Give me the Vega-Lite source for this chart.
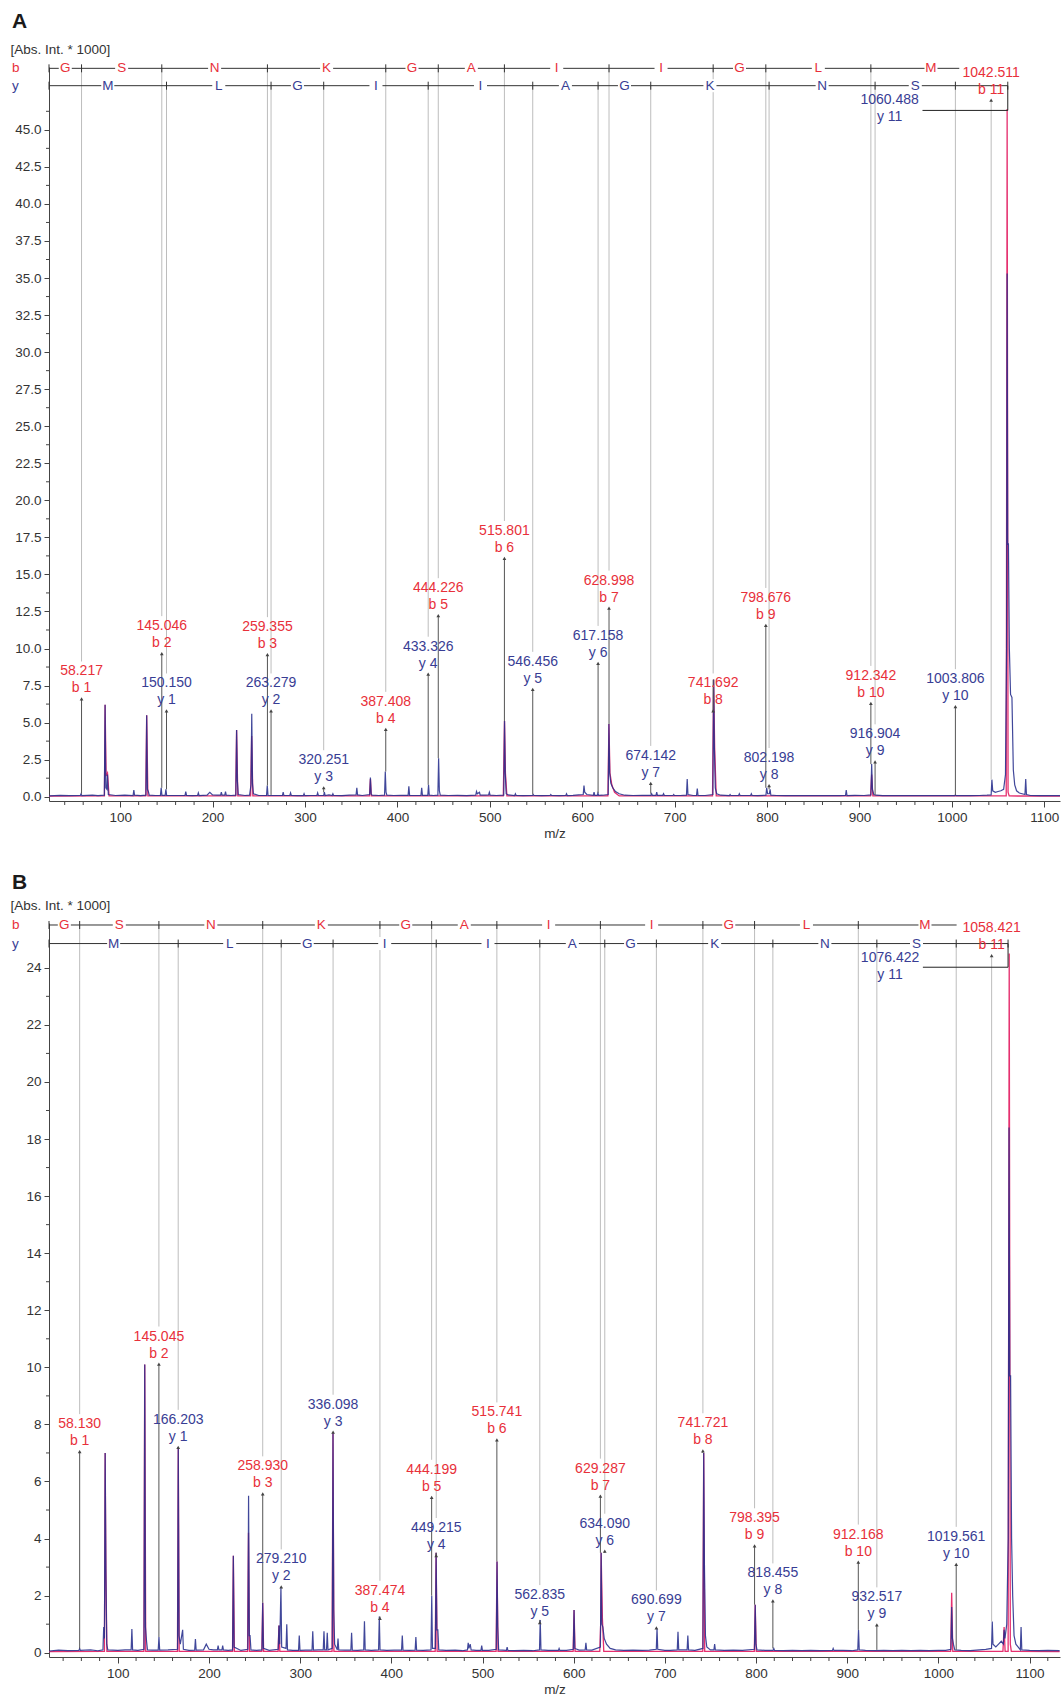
{
"$schema":"https://vega.github.io/schema/vega-lite/v6.json",
"background":"white",
"padding":{"left":10,"top":10,"right":1,"bottom":5},
"bounds":"flush",
"spacing":122,
"config":{"font":"Liberation Sans","view":{"stroke":null},
"axis":{"labelFont":"Liberation Sans","labelFontSize":13.5,"labelColor":"#333","titleFont":"Liberation Sans","titleFontSize":13.5,"titleFontWeight":"normal","titleColor":"#333","domainColor":"#444","tickColor":"#444","grid":false},
"text":{"font":"Liberation Sans"}},
"datasets":{
"minorXA":[{"v":40},{"v":60},{"v":80},{"v":120},{"v":140},{"v":160},{"v":180},{"v":220},{"v":240},{"v":260},{"v":280},{"v":320},{"v":340},{"v":360},{"v":380},{"v":420},{"v":440},{"v":460},{"v":480},{"v":520},{"v":540},{"v":560},{"v":580},{"v":620},{"v":640},{"v":660},{"v":680},{"v":720},{"v":740},{"v":760},{"v":780},{"v":820},{"v":840},{"v":860},{"v":880},{"v":920},{"v":940},{"v":960},{"v":980},{"v":1020},{"v":1040},{"v":1060},{"v":1080}],
"minorXB":[{"v":40},{"v":60},{"v":80},{"v":120},{"v":140},{"v":160},{"v":180},{"v":220},{"v":240},{"v":260},{"v":280},{"v":320},{"v":340},{"v":360},{"v":380},{"v":420},{"v":440},{"v":460},{"v":480},{"v":520},{"v":540},{"v":560},{"v":580},{"v":620},{"v":640},{"v":660},{"v":680},{"v":720},{"v":740},{"v":760},{"v":780},{"v":820},{"v":840},{"v":860},{"v":880},{"v":920},{"v":940},{"v":960},{"v":980},{"v":1020},{"v":1040},{"v":1060},{"v":1080},{"v":1120}],
"minorYA":[{"v":1.25},{"v":3.75},{"v":6.25},{"v":8.75},{"v":11.25},{"v":13.75},{"v":16.25},{"v":18.75},{"v":21.25},{"v":23.75},{"v":26.25},{"v":28.75},{"v":31.25},{"v":33.75},{"v":36.25},{"v":38.75},{"v":41.25},{"v":43.75},{"v":46.25}],
"minorYB":[{"v":1},{"v":3},{"v":5},{"v":7},{"v":9},{"v":11},{"v":13},{"v":15},{"v":17},{"v":19},{"v":21},{"v":23}],
"specAr":[{"mz":23,"I":0.04},{"mz":83,"I":0.05},{"mz":83.7,"I":6.2},{"mz":84.8,"I":1.4},{"mz":86.3,"I":1.6},{"mz":88,"I":0.05},{"mz":127.7,"I":0.05},{"mz":128.7,"I":5.5},{"mz":130,"I":0.05},{"mz":225,"I":0.05},{"mz":226,"I":4.5},{"mz":227.3,"I":0.05},{"mz":241.2,"I":0.05},{"mz":242.3,"I":4.1},{"mz":243.6,"I":0.05},{"mz":369.8,"I":0.05},{"mz":370.8,"I":1.2},{"mz":371.8,"I":0.05},{"mz":514.6,"I":0.05},{"mz":515.9,"I":5.1},{"mz":516.9,"I":1.6},{"mz":518.5,"I":0.05},{"mz":627.8,"I":0.05},{"mz":628.9,"I":4.9},{"mz":630,"I":1.6},{"mz":632,"I":0.8},{"mz":635,"I":0.3},{"mz":640,"I":0.05},{"mz":741,"I":0.05},{"mz":742.2,"I":7.9},{"mz":743.3,"I":3.3},{"mz":745,"I":0.05},{"mz":912,"I":0.05},{"mz":913.2,"I":1.5},{"mz":914.5,"I":0.05},{"mz":1058.8,"I":0.05},{"mz":1059.8,"I":46.4},{"mz":1060.8,"I":0.3},{"mz":1062,"I":0.05},{"mz":1117,"I":0.04}],
"specAb":[{"mz":23,"I":0.06},{"mz":35,"I":0.09},{"mz":45,"I":0.07},{"mz":56.9,"I":0.08},{"mz":57.7,"I":0.2},{"mz":58.5,"I":0.08},{"mz":70,"I":0.1},{"mz":76,"I":0.07},{"mz":82.9,"I":0.1},{"mz":83.7,"I":6.2},{"mz":84.5,"I":0.6},{"mz":85.6,"I":0.5},{"mz":86.3,"I":1.5},{"mz":87.2,"I":0.15},{"mz":95,"I":0.08},{"mz":105,"I":0.1},{"mz":114,"I":0.08},{"mz":114.8,"I":0.45},{"mz":115.6,"I":0.1},{"mz":122,"I":0.07},{"mz":127.9,"I":0.1},{"mz":128.7,"I":5.5},{"mz":129.5,"I":0.5},{"mz":130.5,"I":0.35},{"mz":131.5,"I":0.1},{"mz":138,"I":0.08},{"mz":143.6,"I":0.09},{"mz":144.4,"I":0.6},{"mz":145.2,"I":0.09},{"mz":148.7,"I":0.09},{"mz":149.5,"I":0.5},{"mz":150.3,"I":0.09},{"mz":160,"I":0.08},{"mz":170.2,"I":0.09},{"mz":171,"I":0.35},{"mz":171.8,"I":0.09},{"mz":178,"I":0.07},{"mz":183.8,"I":0.08},{"mz":184.6,"I":0.25},{"mz":185.4,"I":0.08},{"mz":194,"I":0.1},{"mz":197,"I":0.3},{"mz":200,"I":0.12},{"mz":205,"I":0.1},{"mz":208.7,"I":0.1},{"mz":209.5,"I":0.3},{"mz":210.3,"I":0.1},{"mz":213.2,"I":0.1},{"mz":214,"I":0.35},{"mz":214.8,"I":0.1},{"mz":220,"I":0.08},{"mz":225.2,"I":0.1},{"mz":226,"I":4.5},{"mz":226.8,"I":1.1},{"mz":227.8,"I":0.15},{"mz":235,"I":0.08},{"mz":240,"I":0.1},{"mz":241.6,"I":0.8},{"mz":242.4,"I":5.6},{"mz":243.2,"I":0.9},{"mz":244.2,"I":0.2},{"mz":250,"I":0.08},{"mz":258.4,"I":0.09},{"mz":259.2,"I":0.75},{"mz":260,"I":0.09},{"mz":268,"I":0.08},{"mz":275.6,"I":0.08},{"mz":276.4,"I":0.3},{"mz":277.2,"I":0.08},{"mz":283.6,"I":0.08},{"mz":284.4,"I":0.25},{"mz":285.2,"I":0.08},{"mz":292,"I":0.07},{"mz":298.2,"I":0.07},{"mz":299,"I":0.2},{"mz":299.8,"I":0.07},{"mz":306,"I":0.08},{"mz":312.9,"I":0.08},{"mz":313.7,"I":0.25},{"mz":314.5,"I":0.08},{"mz":320.2,"I":0.08},{"mz":321,"I":0.3},{"mz":321.8,"I":0.08},{"mz":326,"I":0.12},{"mz":329.4,"I":0.08},{"mz":330.2,"I":0.2},{"mz":331,"I":0.08},{"mz":340,"I":0.07},{"mz":348,"I":0.1},{"mz":355.3,"I":0.12},{"mz":356.1,"I":0.6},{"mz":356.9,"I":0.12},{"mz":362,"I":0.08},{"mz":370,"I":0.15},{"mz":370.8,"I":1.3},{"mz":371.6,"I":0.2},{"mz":372.6,"I":0.1},{"mz":380,"I":0.08},{"mz":386.1,"I":0.1},{"mz":386.9,"I":1.7},{"mz":387.7,"I":0.3},{"mz":388.6,"I":0.1},{"mz":396,"I":0.08},{"mz":404,"I":0.09},{"mz":411.6,"I":0.09},{"mz":412.4,"I":0.7},{"mz":413.2,"I":0.09},{"mz":420,"I":0.08},{"mz":425.5,"I":0.09},{"mz":426.3,"I":0.6},{"mz":427.1,"I":0.09},{"mz":432.9,"I":0.09},{"mz":433.7,"I":0.8},{"mz":434.5,"I":0.1},{"mz":439,"I":0.08},{"mz":443.8,"I":0.1},{"mz":444.6,"I":2.6},{"mz":445.4,"I":0.4},{"mz":446.4,"I":0.1},{"mz":455,"I":0.08},{"mz":465,"I":0.09},{"mz":475,"I":0.07},{"mz":484.8,"I":0.1},{"mz":485.6,"I":0.35},{"mz":486.5,"I":0.2},{"mz":488.8,"I":0.3},{"mz":489.6,"I":0.1},{"mz":495,"I":0.1},{"mz":498.7,"I":0.12},{"mz":499.5,"I":0.3},{"mz":500.3,"I":0.1},{"mz":507,"I":0.08},{"mz":515.1,"I":0.1},{"mz":515.9,"I":5.1},{"mz":516.7,"I":1.6},{"mz":517.7,"I":0.2},{"mz":520,"I":0.12},{"mz":526.9,"I":0.08},{"mz":527.7,"I":0.2},{"mz":528.5,"I":0.08},{"mz":536,"I":0.07},{"mz":546.2,"I":0.08},{"mz":547,"I":0.15},{"mz":547.8,"I":0.08},{"mz":556,"I":0.07},{"mz":565.2,"I":0.08},{"mz":566,"I":0.15},{"mz":566.8,"I":0.08},{"mz":575,"I":0.07},{"mz":582.2,"I":0.08},{"mz":583,"I":0.2},{"mz":583.8,"I":0.08},{"mz":590,"I":0.09},{"mz":596,"I":0.12},{"mz":601.1,"I":0.15},{"mz":601.9,"I":0.75},{"mz":602.7,"I":0.3},{"mz":605,"I":0.15},{"mz":612,"I":0.09},{"mz":612.8,"I":0.3},{"mz":613.6,"I":0.09},{"mz":616.2,"I":0.09},{"mz":617,"I":0.25},{"mz":617.8,"I":0.09},{"mz":622,"I":0.1},{"mz":628.1,"I":0.15},{"mz":628.9,"I":4.9},{"mz":629.7,"I":1.6},{"mz":631,"I":0.9},{"mz":633,"I":0.6},{"mz":636,"I":0.35},{"mz":640,"I":0.2},{"mz":646,"I":0.1},{"mz":655,"I":0.08},{"mz":665,"I":0.09},{"mz":674.3,"I":0.09},{"mz":675.1,"I":0.2},{"mz":675.9,"I":0.09},{"mz":679.8,"I":0.09},{"mz":680.6,"I":0.3},{"mz":681.4,"I":0.09},{"mz":687.2,"I":0.09},{"mz":688,"I":0.2},{"mz":688.8,"I":0.09},{"mz":698.2,"I":0.08},{"mz":699,"I":0.15},{"mz":699.8,"I":0.08},{"mz":706,"I":0.08},{"mz":712.8,"I":0.1},{"mz":713.6,"I":1.2},{"mz":714.4,"I":0.15},{"mz":720,"I":0.08},{"mz":723.7,"I":0.09},{"mz":724.5,"I":0.55},{"mz":725.3,"I":0.09},{"mz":733,"I":0.08},{"mz":741.4,"I":0.15},{"mz":742.2,"I":7.9},{"mz":743,"I":3.3},{"mz":744,"I":0.6},{"mz":745.5,"I":0.2},{"mz":750,"I":0.1},{"mz":759.2,"I":0.08},{"mz":760,"I":0.15},{"mz":760.8,"I":0.08},{"mz":769.2,"I":0.08},{"mz":770,"I":0.2},{"mz":770.8,"I":0.08},{"mz":782.2,"I":0.08},{"mz":783,"I":0.2},{"mz":783.8,"I":0.08},{"mz":790,"I":0.07},{"mz":798.8,"I":0.1},{"mz":799.6,"I":0.6},{"mz":800.6,"I":0.2},{"mz":802.5,"I":0.2},{"mz":803.3,"I":0.5},{"mz":804.1,"I":0.1},{"mz":810,"I":0.08},{"mz":820,"I":0.07},{"mz":830,"I":0.08},{"mz":840,"I":0.07},{"mz":850,"I":0.08},{"mz":860,"I":0.07},{"mz":870,"I":0.08},{"mz":878,"I":0.07},{"mz":884.9,"I":0.08},{"mz":885.7,"I":0.45},{"mz":886.5,"I":0.08},{"mz":895,"I":0.09},{"mz":905,"I":0.08},{"mz":912.4,"I":0.12},{"mz":913.2,"I":2.2},{"mz":914,"I":0.5},{"mz":915.5,"I":0.15},{"mz":918,"I":0.1},{"mz":925,"I":0.07},{"mz":935,"I":0.08},{"mz":945,"I":0.07},{"mz":955,"I":0.08},{"mz":965,"I":0.07},{"mz":975,"I":0.08},{"mz":985,"I":0.07},{"mz":995,"I":0.08},{"mz":1003,"I":0.07},{"mz":1003.8,"I":0.12},{"mz":1004.6,"I":0.07},{"mz":1012,"I":0.08},{"mz":1020,"I":0.07},{"mz":1030,"I":0.08},{"mz":1038,"I":0.1},{"mz":1042.5,"I":0.12},{"mz":1043.3,"I":1.15},{"mz":1044.2,"I":0.4},{"mz":1047,"I":0.3},{"mz":1050,"I":0.35},{"mz":1053,"I":0.4},{"mz":1056,"I":0.5},{"mz":1058,"I":1.5},{"mz":1059.2,"I":10},{"mz":1059.8,"I":35.3},{"mz":1060.4,"I":17},{"mz":1061.2,"I":17.1},{"mz":1062.2,"I":10},{"mz":1063.5,"I":6.9},{"mz":1065,"I":6.7},{"mz":1066.5,"I":1.8},{"mz":1068,"I":0.8},{"mz":1070,"I":0.4},{"mz":1073,"I":0.25},{"mz":1076,"I":0.2},{"mz":1079.1,"I":0.15},{"mz":1079.9,"I":1.2},{"mz":1080.7,"I":0.15},{"mz":1085,"I":0.08},{"mz":1095,"I":0.07},{"mz":1105,"I":0.08},{"mz":1117,"I":0.07}],
"annA":[
{"mz":58.217,"lx":58.217,"t":"b","val":"58.217","ion":"b 1","lab":8.45,"peak":0.2,"kind":"n","lev":49.15},
{"mz":145.046,"lx":145.046,"t":"b","val":"145.046","ion":"b 2","lab":11.51,"peak":0.6,"kind":"n","lev":49.15},
{"mz":150.15,"lx":150.15,"t":"y","val":"150.150","ion":"y 1","lab":7.64,"peak":0.5,"kind":"n","lev":47.98},
{"mz":259.355,"lx":259.355,"t":"b","val":"259.355","ion":"b 3","lab":11.44,"peak":0.75,"kind":"n","lev":49.15},
{"mz":263.279,"lx":263.279,"t":"y","val":"263.279","ion":"y 2","lab":7.64,"peak":0.12,"kind":"n","lev":47.98},
{"mz":320.251,"lx":320.251,"t":"y","val":"320.251","ion":"y 3","lab":2.46,"peak":0.3,"kind":"n","lev":47.98},
{"mz":387.408,"lx":387.408,"t":"b","val":"387.408","ion":"b 4","lab":6.4,"peak":1.7,"kind":"n","lev":49.15},
{"mz":433.326,"lx":433.326,"t":"y","val":"433.326","ion":"y 4","lab":10.12,"peak":0.8,"kind":"n","lev":47.98},
{"mz":444.226,"lx":444.226,"t":"b","val":"444.226","ion":"b 5","lab":14.07,"peak":2.6,"kind":"n","lev":49.15},
{"mz":515.801,"lx":515.801,"t":"b","val":"515.801","ion":"b 6","lab":17.93,"peak":5.1,"kind":"n","lev":49.15},
{"mz":546.456,"lx":546.456,"t":"y","val":"546.456","ion":"y 5","lab":9.1,"peak":0.15,"kind":"n","lev":47.98},
{"mz":617.158,"lx":617.158,"t":"y","val":"617.158","ion":"y 6","lab":10.85,"peak":0.25,"kind":"n","lev":47.98},
{"mz":628.998,"lx":628.998,"t":"b","val":"628.998","ion":"b 7","lab":14.58,"peak":4.9,"kind":"n","lev":49.15},
{"mz":674.142,"lx":674.142,"t":"y","val":"674.142","ion":"y 7","lab":2.75,"peak":0.2,"kind":"n","lev":47.98},
{"mz":741.692,"lx":741.692,"t":"b","val":"741.692","ion":"b 8","lab":7.64,"peak":7.9,"kind":"n","lev":49.15},
{"mz":798.676,"lx":798.676,"t":"b","val":"798.676","ion":"b 9","lab":13.41,"peak":0.6,"kind":"n","lev":49.15},
{"mz":802.198,"lx":802.198,"t":"y","val":"802.198","ion":"y 8","lab":2.61,"peak":0.5,"kind":"n","lev":47.98},
{"mz":912.342,"lx":912.342,"t":"b","val":"912.342","ion":"b 10","lab":8.15,"peak":2.2,"kind":"n","lev":49.15},
{"mz":916.904,"lx":916.904,"t":"y","val":"916.904","ion":"y 9","lab":4.21,"peak":0.12,"kind":"n","lev":47.98},
{"mz":1003.806,"lx":1003.806,"t":"y","val":"1003.806","ion":"y 10","lab":7.93,"peak":0.12,"kind":"n","lev":47.98},
{"mz":1042.511,"lx":1042.511,"t":"b","val":"1042.511","ion":"b 11","lab":48.86,"peak":1.15,"kind":"top","lev":49.15},
{"mz":1060.488,"lx":932.7,"t":"y","val":"1060.488","ion":"y 11","lab":46.98,"peak":46.4,"kind":"lead","lev":47.98}],
"lineA":[{"m1":23,"m2":1008,"t":"b","lev":49.15},{"m1":23,"m2":1060.488,"t":"y","lev":47.98}],
"leadA":[{"mz":1060.488,"x1":968.2,"yl":46.31,"ytop":47.98}],
"letA":[{"mz":40.6,"aa":"G","t":"b","lev":49.15},{"mz":101.6,"aa":"S","t":"b","lev":49.15},{"mz":202.2,"aa":"N","t":"b","lev":49.15},{"mz":323.4,"aa":"K","t":"b","lev":49.15},{"mz":415.8,"aa":"G","t":"b","lev":49.15},{"mz":480.0,"aa":"A","t":"b","lev":49.15},{"mz":572.4,"aa":"I","t":"b","lev":49.15},{"mz":685.3,"aa":"I","t":"b","lev":49.15},{"mz":770.2,"aa":"G","t":"b","lev":49.15},{"mz":855.5,"aa":"L","t":"b","lev":49.15},{"mz":977.4,"aa":"M","t":"b","lev":49.15},
{"mz":86.6,"aa":"M","t":"y","lev":47.98},{"mz":206.7,"aa":"L","t":"y","lev":47.98},{"mz":291.8,"aa":"G","t":"y","lev":47.98},{"mz":376.8,"aa":"I","t":"y","lev":47.98},{"mz":489.9,"aa":"I","t":"y","lev":47.98},{"mz":581.8,"aa":"A","t":"y","lev":47.98},{"mz":645.7,"aa":"G","t":"y","lev":47.98},{"mz":738.2,"aa":"K","t":"y","lev":47.98},{"mz":859.6,"aa":"N","t":"y","lev":47.98},{"mz":960.4,"aa":"S","t":"y","lev":47.98}],
"tickA":[{"mz":23,"lev":49.15},{"mz":58.217,"lev":49.15},{"mz":145.046,"lev":49.15},{"mz":259.355,"lev":49.15},{"mz":387.408,"lev":49.15},{"mz":444.226,"lev":49.15},{"mz":515.801,"lev":49.15},{"mz":628.998,"lev":49.15},{"mz":741.692,"lev":49.15},{"mz":798.676,"lev":49.15},{"mz":912.342,"lev":49.15},
{"mz":23,"lev":47.98},{"mz":150.15,"lev":47.98},{"mz":263.279,"lev":47.98},{"mz":320.251,"lev":47.98},{"mz":433.326,"lev":47.98},{"mz":546.456,"lev":47.98},{"mz":617.158,"lev":47.98},{"mz":674.142,"lev":47.98},{"mz":802.198,"lev":47.98},{"mz":916.904,"lev":47.98},{"mz":1003.806,"lev":47.98},{"mz":1060.488,"lev":47.98}],
"specBr":[{"mz":24.5,"I":0.04},{"mz":85.3,"I":0.05},{"mz":86.1,"I":7.0},{"mz":86.9,"I":2.9},{"mz":88,"I":0.05},{"mz":128.6,"I":0.05},{"mz":129.5,"I":10.1},{"mz":130.6,"I":0.05},{"mz":165.4,"I":0.05},{"mz":166.3,"I":7.2},{"mz":167.3,"I":0.05},{"mz":225.8,"I":0.05},{"mz":226.7,"I":3.4},{"mz":227.8,"I":0.05},{"mz":242.3,"I":0.05},{"mz":243.3,"I":4.2},{"mz":244.4,"I":0.05},{"mz":258,"I":0.05},{"mz":258.9,"I":1.75},{"mz":259.9,"I":0.05},{"mz":275.8,"I":0.05},{"mz":276.7,"I":0.95},{"mz":277.7,"I":0.05},{"mz":335,"I":0.05},{"mz":336,"I":7.7},{"mz":337,"I":0.05},{"mz":448.1,"I":0.05},{"mz":449.1,"I":3.5},{"mz":450.2,"I":0.05},{"mz":514.9,"I":0.05},{"mz":515.9,"I":3.2},{"mz":517,"I":0.05},{"mz":599.4,"I":0.05},{"mz":600.4,"I":1.5},{"mz":601.5,"I":0.05},{"mz":628.6,"I":0.05},{"mz":629.8,"I":1.2},{"mz":630.1,"I":3.5},{"mz":631.5,"I":1.2},{"mz":633,"I":0.05},{"mz":741.6,"I":0.05},{"mz":742.6,"I":7.0},{"mz":743.7,"I":0.05},{"mz":798.1,"I":0.05},{"mz":799.1,"I":1.68},{"mz":800.2,"I":0.05},{"mz":1013.5,"I":0.05},{"mz":1014.6,"I":2.1},{"mz":1015.8,"I":0.05},{"mz":1070.8,"I":0.05},{"mz":1072.1,"I":0.9},{"mz":1073.2,"I":0.05},{"mz":1076.5,"I":0.05},{"mz":1077.7,"I":24.5},{"mz":1078.9,"I":0.3},{"mz":1080,"I":0.05},{"mz":1133,"I":0.04}],
"specBb":[{"mz":24.5,"I":0.06},{"mz":35,"I":0.09},{"mz":45,"I":0.07},{"mz":57.3,"I":0.08},{"mz":58.1,"I":0.15},{"mz":58.9,"I":0.08},{"mz":70,"I":0.1},{"mz":78,"I":0.07},{"mz":83.7,"I":0.1},{"mz":84.5,"I":0.9},{"mz":85.3,"I":0.5},{"mz":86.1,"I":7.0},{"mz":86.9,"I":2.9},{"mz":87.8,"I":0.3},{"mz":89,"I":0.1},{"mz":100,"I":0.08},{"mz":108,"I":0.1},{"mz":114.6,"I":0.1},{"mz":115.4,"I":0.83},{"mz":116.2,"I":0.1},{"mz":122,"I":0.08},{"mz":128.7,"I":0.12},{"mz":129.5,"I":10.1},{"mz":130.3,"I":0.9},{"mz":131.5,"I":0.4},{"mz":132.5,"I":0.1},{"mz":138,"I":0.09},{"mz":144.3,"I":0.09},{"mz":145.1,"I":0.55},{"mz":145.9,"I":0.09},{"mz":155,"I":0.1},{"mz":165.5,"I":0.12},{"mz":166.3,"I":7.2},{"mz":167.1,"I":0.6},{"mz":168.5,"I":0.3},{"mz":171.1,"I":0.8},{"mz":171.9,"I":0.12},{"mz":178,"I":0.08},{"mz":184.3,"I":0.09},{"mz":185.1,"I":0.48},{"mz":185.9,"I":0.09},{"mz":194,"I":0.1},{"mz":197,"I":0.3},{"mz":200,"I":0.12},{"mz":205,"I":0.1},{"mz":209.2,"I":0.1},{"mz":210,"I":0.25},{"mz":210.8,"I":0.1},{"mz":214.2,"I":0.1},{"mz":215,"I":0.25},{"mz":215.8,"I":0.1},{"mz":221,"I":0.08},{"mz":225.9,"I":0.1},{"mz":226.7,"I":3.4},{"mz":227.5,"I":0.2},{"mz":235,"I":0.08},{"mz":242.6,"I":0.12},{"mz":243.4,"I":5.5},{"mz":244.2,"I":0.6},{"mz":245,"I":0.6},{"mz":246,"I":0.1},{"mz":252,"I":0.08},{"mz":258.1,"I":0.1},{"mz":258.9,"I":1.75},{"mz":259.7,"I":0.15},{"mz":266,"I":0.08},{"mz":275.9,"I":0.12},{"mz":276.7,"I":0.95},{"mz":277.6,"I":0.3},{"mz":278.9,"I":2.3},{"mz":279.7,"I":0.2},{"mz":284.5,"I":0.15},{"mz":285.3,"I":1.0},{"mz":286.1,"I":0.1},{"mz":292,"I":0.08},{"mz":298.2,"I":0.08},{"mz":299,"I":0.6},{"mz":299.8,"I":0.08},{"mz":306,"I":0.09},{"mz":313,"I":0.09},{"mz":313.8,"I":0.75},{"mz":314.6,"I":0.09},{"mz":320,"I":0.1},{"mz":325.3,"I":0.1},{"mz":326.1,"I":0.75},{"mz":326.9,"I":0.1},{"mz":328.9,"I":0.1},{"mz":329.7,"I":0.7},{"mz":330.5,"I":0.1},{"mz":335.2,"I":0.15},{"mz":336,"I":7.7},{"mz":336.8,"I":1.5},{"mz":337.8,"I":0.3},{"mz":340.7,"I":0.1},{"mz":341.5,"I":0.5},{"mz":342.3,"I":0.1},{"mz":349,"I":0.09},{"mz":355.6,"I":0.09},{"mz":356.4,"I":0.7},{"mz":357.2,"I":0.09},{"mz":363,"I":0.08},{"mz":369.7,"I":0.1},{"mz":370.5,"I":1.1},{"mz":371.3,"I":0.1},{"mz":378,"I":0.08},{"mz":386,"I":0.1},{"mz":386.8,"I":1.27},{"mz":387.6,"I":0.1},{"mz":395,"I":0.08},{"mz":403,"I":0.09},{"mz":411.2,"I":0.09},{"mz":412,"I":0.6},{"mz":412.8,"I":0.09},{"mz":420,"I":0.08},{"mz":426.1,"I":0.09},{"mz":426.9,"I":0.55},{"mz":427.7,"I":0.09},{"mz":435,"I":0.08},{"mz":443.5,"I":0.1},{"mz":444.3,"I":2.0},{"mz":445.1,"I":0.15},{"mz":448.3,"I":0.15},{"mz":449.1,"I":3.5},{"mz":449.9,"I":0.8},{"mz":451,"I":0.8},{"mz":452,"I":0.1},{"mz":460,"I":0.08},{"mz":470,"I":0.09},{"mz":478,"I":0.07},{"mz":483.5,"I":0.1},{"mz":484.3,"I":0.35},{"mz":485.1,"I":0.15},{"mz":486.5,"I":0.3},{"mz":487.5,"I":0.1},{"mz":493,"I":0.08},{"mz":498.3,"I":0.08},{"mz":499.1,"I":0.25},{"mz":499.9,"I":0.08},{"mz":507,"I":0.08},{"mz":515.1,"I":0.12},{"mz":515.9,"I":3.2},{"mz":516.7,"I":0.9},{"mz":517.7,"I":0.1},{"mz":526.2,"I":0.08},{"mz":527,"I":0.2},{"mz":527.8,"I":0.08},{"mz":535,"I":0.07},{"mz":545,"I":0.08},{"mz":555,"I":0.07},{"mz":562.5,"I":0.1},{"mz":563.3,"I":1.15},{"mz":564.1,"I":0.1},{"mz":572,"I":0.08},{"mz":583.2,"I":0.08},{"mz":584,"I":0.15},{"mz":584.8,"I":0.08},{"mz":592,"I":0.08},{"mz":599.6,"I":0.12},{"mz":600.4,"I":1.5},{"mz":601.2,"I":0.15},{"mz":606,"I":0.09},{"mz":612.6,"I":0.1},{"mz":613.4,"I":0.35},{"mz":614.2,"I":0.1},{"mz":620,"I":0.09},{"mz":629.3,"I":0.2},{"mz":630.1,"I":3.5},{"mz":630.9,"I":1.0},{"mz":632,"I":0.9},{"mz":633.5,"I":0.5},{"mz":636,"I":0.3},{"mz":640,"I":0.15},{"mz":646,"I":0.1},{"mz":655,"I":0.08},{"mz":665,"I":0.09},{"mz":675,"I":0.08},{"mz":683,"I":0.09},{"mz":690.6,"I":0.12},{"mz":691.4,"I":0.85},{"mz":692.2,"I":0.12},{"mz":700,"I":0.08},{"mz":706,"I":0.08},{"mz":713.6,"I":0.1},{"mz":714.4,"I":0.73},{"mz":715.2,"I":0.1},{"mz":724.4,"I":0.1},{"mz":725.2,"I":0.6},{"mz":726,"I":0.1},{"mz":733,"I":0.08},{"mz":741.8,"I":0.15},{"mz":742.6,"I":7.0},{"mz":743.4,"I":3.1},{"mz":744.5,"I":0.6},{"mz":746,"I":0.2},{"mz":750,"I":0.1},{"mz":753.8,"I":0.1},{"mz":754.6,"I":0.3},{"mz":755.4,"I":0.1},{"mz":765,"I":0.08},{"mz":775,"I":0.09},{"mz":785,"I":0.08},{"mz":798.3,"I":0.12},{"mz":799.1,"I":1.68},{"mz":799.9,"I":0.3},{"mz":801,"I":0.1},{"mz":810,"I":0.08},{"mz":818.7,"I":0.08},{"mz":819.5,"I":0.15},{"mz":820.3,"I":0.08},{"mz":830,"I":0.07},{"mz":840,"I":0.08},{"mz":850,"I":0.07},{"mz":860,"I":0.08},{"mz":870,"I":0.07},{"mz":883.8,"I":0.08},{"mz":884.6,"I":0.15},{"mz":885.4,"I":0.08},{"mz":895,"I":0.08},{"mz":905,"I":0.07},{"mz":911.6,"I":0.1},{"mz":912.4,"I":0.8},{"mz":913.2,"I":0.1},{"mz":920,"I":0.08},{"mz":930,"I":0.07},{"mz":940,"I":0.08},{"mz":950,"I":0.07},{"mz":960,"I":0.08},{"mz":970,"I":0.07},{"mz":980,"I":0.08},{"mz":990,"I":0.07},{"mz":1000,"I":0.08},{"mz":1008,"I":0.08},{"mz":1013.8,"I":0.12},{"mz":1014.6,"I":1.6},{"mz":1015.4,"I":0.5},{"mz":1016.5,"I":0.3},{"mz":1018,"I":0.1},{"mz":1025,"I":0.08},{"mz":1035,"I":0.07},{"mz":1045,"I":0.1},{"mz":1052,"I":0.12},{"mz":1058.3,"I":0.15},{"mz":1059.1,"I":1.09},{"mz":1059.9,"I":0.3},{"mz":1063,"I":0.2},{"mz":1066,"I":0.3},{"mz":1069,"I":0.4},{"mz":1071.3,"I":0.3},{"mz":1072.1,"I":0.8},{"mz":1073,"I":0.5},{"mz":1075,"I":1.0},{"mz":1076.6,"I":4},{"mz":1077.5,"I":18.4},{"mz":1078.3,"I":9.7},{"mz":1079.2,"I":9.7},{"mz":1080.3,"I":4.0},{"mz":1081.5,"I":2.0},{"mz":1083,"I":0.6},{"mz":1085,"I":0.3},{"mz":1089.9,"I":0.1},{"mz":1090.7,"I":0.9},{"mz":1091.5,"I":0.1},{"mz":1100,"I":0.08},{"mz":1110,"I":0.07},{"mz":1120,"I":0.08},{"mz":1133,"I":0.07}],
"annB":[
{"mz":58.13,"lx":58.13,"t":"b","val":"58.130","ion":"b 1","lab":8.01,"peak":0.15,"kind":"n","lev":25.5},
{"mz":145.045,"lx":145.045,"t":"b","val":"145.045","ion":"b 2","lab":11.08,"peak":0.55,"kind":"n","lev":25.5},
{"mz":166.203,"lx":166.203,"t":"y","val":"166.203","ion":"y 1","lab":8.16,"peak":7.2,"kind":"n","lev":24.85},
{"mz":258.93,"lx":258.93,"t":"b","val":"258.930","ion":"b 3","lab":6.53,"peak":1.75,"kind":"n","lev":25.5},
{"mz":279.21,"lx":279.21,"t":"y","val":"279.210","ion":"y 2","lab":3.27,"peak":2.3,"kind":"n","lev":24.85},
{"mz":336.098,"lx":336.098,"t":"y","val":"336.098","ion":"y 3","lab":8.69,"peak":7.7,"kind":"n","lev":24.85},
{"mz":387.474,"lx":387.474,"t":"b","val":"387.474","ion":"b 4","lab":2.17,"peak":1.27,"kind":"n","lev":25.5},
{"mz":444.199,"lx":444.199,"t":"b","val":"444.199","ion":"b 5","lab":6.41,"peak":2.0,"kind":"n","lev":25.5},
{"mz":449.215,"lx":449.215,"t":"y","val":"449.215","ion":"y 4","lab":4.37,"peak":3.5,"kind":"n","lev":24.85},
{"mz":515.741,"lx":515.741,"t":"b","val":"515.741","ion":"b 6","lab":8.42,"peak":3.2,"kind":"n","lev":25.5},
{"mz":562.835,"lx":562.835,"t":"y","val":"562.835","ion":"y 5","lab":2.02,"peak":1.15,"kind":"n","lev":24.85},
{"mz":629.287,"lx":629.287,"t":"b","val":"629.287","ion":"b 7","lab":6.45,"peak":3.5,"kind":"n","lev":25.5},
{"mz":634.09,"lx":634.09,"t":"y","val":"634.090","ion":"y 6","lab":4.52,"peak":3.5,"kind":"n","lev":24.85},
{"mz":690.699,"lx":690.699,"t":"y","val":"690.699","ion":"y 7","lab":1.83,"peak":0.85,"kind":"n","lev":24.85},
{"mz":741.721,"lx":741.721,"t":"b","val":"741.721","ion":"b 8","lab":8.04,"peak":7.0,"kind":"n","lev":25.5},
{"mz":798.395,"lx":798.395,"t":"b","val":"798.395","ion":"b 9","lab":4.71,"peak":1.68,"kind":"n","lev":25.5},
{"mz":818.455,"lx":818.455,"t":"y","val":"818.455","ion":"y 8","lab":2.78,"peak":0.15,"kind":"n","lev":24.85},
{"mz":912.168,"lx":912.168,"t":"b","val":"912.168","ion":"b 10","lab":4.14,"peak":0.8,"kind":"n","lev":25.5},
{"mz":932.517,"lx":932.517,"t":"y","val":"932.517","ion":"y 9","lab":1.94,"peak":0.1,"kind":"n","lev":24.85},
{"mz":1019.561,"lx":1019.561,"t":"y","val":"1019.561","ion":"y 10","lab":4.06,"peak":0.1,"kind":"n","lev":24.85},
{"mz":1058.421,"lx":1058.421,"t":"b","val":"1058.421","ion":"b 11","lab":25.39,"peak":1.09,"kind":"top","lev":25.5},
{"mz":1076.422,"lx":947,"t":"y","val":"1076.422","ion":"y 11","lab":24.33,"peak":24.5,"kind":"lead","lev":24.85}],
"lineB":[{"m1":24.5,"m2":1020,"t":"b","lev":25.5},{"m1":24.5,"m2":1076.422,"t":"y","lev":24.85}],
"leadB":[{"mz":1076.422,"x1":983,"yl":24.02,"ytop":24.85}],
"letB":[{"mz":41.3,"aa":"G","t":"b","lev":25.5},{"mz":101.6,"aa":"S","t":"b","lev":25.5},{"mz":202.0,"aa":"N","t":"b","lev":25.5},{"mz":323.2,"aa":"K","t":"b","lev":25.5},{"mz":415.8,"aa":"G","t":"b","lev":25.5},{"mz":480.0,"aa":"A","t":"b","lev":25.5},{"mz":572.5,"aa":"I","t":"b","lev":25.5},{"mz":685.5,"aa":"I","t":"b","lev":25.5},{"mz":770.1,"aa":"G","t":"b","lev":25.5},{"mz":855.3,"aa":"L","t":"b","lev":25.5},{"mz":985.3,"aa":"M","t":"b","lev":25.5},
{"mz":95.4,"aa":"M","t":"y","lev":24.85},{"mz":222.7,"aa":"L","t":"y","lev":24.85},{"mz":307.7,"aa":"G","t":"y","lev":24.85},{"mz":392.7,"aa":"I","t":"y","lev":24.85},{"mz":506.0,"aa":"I","t":"y","lev":24.85},{"mz":598.5,"aa":"A","t":"y","lev":24.85},{"mz":662.4,"aa":"G","t":"y","lev":24.85},{"mz":754.6,"aa":"K","t":"y","lev":24.85},{"mz":875.5,"aa":"N","t":"y","lev":24.85},{"mz":976.0,"aa":"S","t":"y","lev":24.85}],
"tickB":[{"mz":24.5,"lev":25.5},{"mz":58.13,"lev":25.5},{"mz":145.045,"lev":25.5},{"mz":258.93,"lev":25.5},{"mz":387.474,"lev":25.5},{"mz":444.199,"lev":25.5},{"mz":515.741,"lev":25.5},{"mz":629.287,"lev":25.5},{"mz":741.721,"lev":25.5},{"mz":798.395,"lev":25.5},{"mz":912.168,"lev":25.5},
{"mz":24.5,"lev":24.85},{"mz":166.203,"lev":24.85},{"mz":279.21,"lev":24.85},{"mz":336.098,"lev":24.85},{"mz":449.215,"lev":24.85},{"mz":562.835,"lev":24.85},{"mz":634.09,"lev":24.85},{"mz":690.699,"lev":24.85},{"mz":818.455,"lev":24.85},{"mz":932.517,"lev":24.85},{"mz":1019.561,"lev":24.85},{"mz":1076.422,"lev":24.85}]
},
"vconcat":[
{"width":1011,"height":734,
"title":{"text":"A","anchor":"start","frame":"group","dx":-37,"fontSize":21,"fontWeight":"bold","font":"Liberation Sans","color":"#1a1a1a","offset":-6.5,"baseline":"alphabetic"},
"layer":[
{"data":{"name":"annA"},"transform":[{"filter":"datum.kind === 'n'"}],"mark":{"type":"rule","color":"#BDBDBD","strokeWidth":1,"y2Offset":-10},
"encoding":{"x":{"field":"mz","type":"quantitative","scale":{"domain":[23,1117],"nice":false,"zero":false},
"axis":{"title":"m/z","values":[100,200,300,400,500,600,700,800,900,1000,1100],"format":"d","tickSize":6,"labelPadding":3,"titlePadding":3,"labelFlush":false}},
"y":{"field":"lev","type":"quantitative","scale":{"domain":[-0.29,49.24],"nice":false,"zero":false},
"axis":{"title":"[Abs. Int. * 1000]","values":[0,2.5,5,7.5,10,12.5,15,17.5,20,22.5,25,27.5,30,32.5,35,37.5,40,42.5,45],"format":".1f","tickSize":5,"labelPadding":3,"titleAngle":0,"titleAlign":"left","titleBaseline":"middle","titleX":-39,"titleY":-18}},
"y2":{"field":"lab"}}},
{"data":{"name":"minorXA"},"mark":{"type":"rule","color":"#444","strokeWidth":1,"y2Offset":4},"encoding":{"x":{"field":"v","type":"quantitative"},"y":{"datum":-0.29},"y2":{"datum":-0.29}}},
{"data":{"name":"minorYA"},"mark":{"type":"rule","color":"#444","strokeWidth":1,"x2Offset":-3},"encoding":{"y":{"field":"v","type":"quantitative"},"x":{"datum":23},"x2":{"datum":23}}},
{"data":{"name":"lineA"},"mark":{"type":"rule","color":"#333","strokeWidth":1},"encoding":{"x":{"field":"m1","type":"quantitative"},"x2":{"field":"m2"},"y":{"field":"lev","type":"quantitative"}}},
{"data":{"name":"letA"},"mark":{"type":"point","shape":"square","size":170,"filled":true,"color":"white","opacity":1},"encoding":{"x":{"field":"mz","type":"quantitative"},"y":{"field":"lev","type":"quantitative"}}},
{"data":{"name":"letA"},"mark":{"type":"text","fontSize":13.5,"align":"center","baseline":"middle"},"encoding":{"x":{"field":"mz","type":"quantitative"},"y":{"field":"lev","type":"quantitative"},"text":{"field":"aa"},"color":{"field":"t","type":"nominal","scale":{"domain":["b","y"],"range":["#E8303A","#383D94"]},"legend":null}}},
{"data":{"name":"tickA"},"mark":{"type":"point","shape":"M0,-1L0,1","size":64,"filled":false,"color":"#333","strokeWidth":1,"opacity":1},"encoding":{"x":{"field":"mz","type":"quantitative"},"y":{"field":"lev","type":"quantitative"}}},
{"data":{"name":"specAr"},"mark":{"type":"line","color":"#E5306F","strokeWidth":1.3},"encoding":{"x":{"field":"mz","type":"quantitative"},"y":{"field":"I","type":"quantitative"}}},
{"data":{"name":"specAb"},"mark":{"type":"line","color":"#262E8C","strokeWidth":1.2,"opacity":0.88},"encoding":{"x":{"field":"mz","type":"quantitative"},"y":{"field":"I","type":"quantitative"}}},
{"data":{"name":"annA"},"transform":[{"filter":"datum.kind !== 'lead'"}],"mark":{"type":"rule","strokeWidth":1,"y2Offset":28},"encoding":{"x":{"field":"mz","type":"quantitative"},"y":{"field":"peak","type":"quantitative"},"y2":{"field":"lab"},"color":{"condition":{"test":"datum.kind === 'top'","value":"#BDBDBD"},"value":"#555"}}},
{"data":{"name":"annA"},"transform":[{"filter":"datum.kind !== 'lead'"}],"mark":{"type":"point","shape":"triangle-up","size":14,"filled":true,"color":"#444","opacity":1,"yOffset":27.5},"encoding":{"x":{"field":"mz","type":"quantitative"},"y":{"field":"lab","type":"quantitative"}}},
{"data":{"name":"leadA"},"mark":{"type":"rule","color":"#222","strokeWidth":1},"encoding":{"x":{"field":"x1","type":"quantitative"},"x2":{"field":"mz"},"y":{"field":"yl","type":"quantitative"}}},
{"data":{"name":"leadA"},"mark":{"type":"rule","color":"#222","strokeWidth":1},"encoding":{"x":{"field":"mz","type":"quantitative"},"y":{"field":"ytop","type":"quantitative"},"y2":{"field":"yl"}}},
{"data":{"name":"annA"},"mark":{"type":"text","fontSize":14,"align":"center","baseline":"middle"},"encoding":{"x":{"field":"lx","type":"quantitative"},"y":{"field":"lab","type":"quantitative"},"text":{"field":"val"},"color":{"field":"t","type":"nominal","scale":{"domain":["b","y"],"range":["#E8303A","#383D94"]},"legend":null}}},
{"data":{"name":"annA"},"mark":{"type":"text","fontSize":14,"align":"center","baseline":"middle","dy":17},"encoding":{"x":{"field":"lx","type":"quantitative"},"y":{"field":"lab","type":"quantitative"},"text":{"field":"ion"},"color":{"field":"t","type":"nominal","scale":{"domain":["b","y"],"range":["#E8303A","#383D94"]},"legend":null}}},
{"data":{"name":"lineA"},"mark":{"type":"text","fontSize":13.5,"align":"left","baseline":"middle","dx":-37},"encoding":{"x":{"field":"m1","type":"quantitative"},"y":{"field":"lev","type":"quantitative"},"text":{"field":"t"},"color":{"field":"t","type":"nominal","scale":{"domain":["b","y"],"range":["#E8303A","#383D94"]},"legend":null}}}
]},
{"width":1011,"height":734,
"title":{"text":"B","anchor":"start","frame":"group","dx":-37,"fontSize":21,"fontWeight":"bold","font":"Liberation Sans","color":"#1a1a1a","offset":-12,"baseline":"alphabetic"},
"layer":[
{"data":{"name":"annB"},"transform":[{"filter":"datum.kind === 'n'"}],"mark":{"type":"rule","color":"#BDBDBD","strokeWidth":1,"y2Offset":-10},
"encoding":{"x":{"field":"mz","type":"quantitative","scale":{"domain":[24.5,1133.4],"nice":false,"zero":false},
"axis":{"title":"m/z","values":[100,200,300,400,500,600,700,800,900,1000,1100],"format":"d","tickSize":6,"labelPadding":3,"titlePadding":3,"labelFlush":false}},
"y":{"field":"lev","type":"quantitative","scale":{"domain":[-0.15,25.57],"nice":false,"zero":false},
"axis":{"title":"[Abs. Int. * 1000]","values":[0,2,4,6,8,10,12,14,16,18,20,22,24],"format":"d","tickSize":5,"labelPadding":3,"titleAngle":0,"titleAlign":"left","titleBaseline":"middle","titleX":-39,"titleY":-18}},
"y2":{"field":"lab"}}},
{"data":{"name":"minorXB"},"mark":{"type":"rule","color":"#444","strokeWidth":1,"y2Offset":4},"encoding":{"x":{"field":"v","type":"quantitative"},"y":{"datum":-0.15},"y2":{"datum":-0.15}}},
{"data":{"name":"minorYB"},"mark":{"type":"rule","color":"#444","strokeWidth":1,"x2Offset":-3},"encoding":{"y":{"field":"v","type":"quantitative"},"x":{"datum":24.5},"x2":{"datum":24.5}}},
{"data":{"name":"lineB"},"mark":{"type":"rule","color":"#333","strokeWidth":1},"encoding":{"x":{"field":"m1","type":"quantitative"},"x2":{"field":"m2"},"y":{"field":"lev","type":"quantitative"}}},
{"data":{"name":"letB"},"mark":{"type":"point","shape":"square","size":170,"filled":true,"color":"white","opacity":1},"encoding":{"x":{"field":"mz","type":"quantitative"},"y":{"field":"lev","type":"quantitative"}}},
{"data":{"name":"letB"},"mark":{"type":"text","fontSize":13.5,"align":"center","baseline":"middle"},"encoding":{"x":{"field":"mz","type":"quantitative"},"y":{"field":"lev","type":"quantitative"},"text":{"field":"aa"},"color":{"field":"t","type":"nominal","scale":{"domain":["b","y"],"range":["#E8303A","#383D94"]},"legend":null}}},
{"data":{"name":"tickB"},"mark":{"type":"point","shape":"M0,-1L0,1","size":64,"filled":false,"color":"#333","strokeWidth":1,"opacity":1},"encoding":{"x":{"field":"mz","type":"quantitative"},"y":{"field":"lev","type":"quantitative"}}},
{"data":{"name":"specBr"},"mark":{"type":"line","color":"#E5306F","strokeWidth":1.3},"encoding":{"x":{"field":"mz","type":"quantitative"},"y":{"field":"I","type":"quantitative"}}},
{"data":{"name":"specBb"},"mark":{"type":"line","color":"#262E8C","strokeWidth":1.2,"opacity":0.88},"encoding":{"x":{"field":"mz","type":"quantitative"},"y":{"field":"I","type":"quantitative"}}},
{"data":{"name":"annB"},"transform":[{"filter":"datum.kind !== 'lead'"}],"mark":{"type":"rule","strokeWidth":1,"y2Offset":28},"encoding":{"x":{"field":"mz","type":"quantitative"},"y":{"field":"peak","type":"quantitative"},"y2":{"field":"lab"},"color":{"condition":{"test":"datum.kind === 'top'","value":"#BDBDBD"},"value":"#555"}}},
{"data":{"name":"annB"},"transform":[{"filter":"datum.kind !== 'lead'"}],"mark":{"type":"point","shape":"triangle-up","size":14,"filled":true,"color":"#444","opacity":1,"yOffset":27.5},"encoding":{"x":{"field":"mz","type":"quantitative"},"y":{"field":"lab","type":"quantitative"}}},
{"data":{"name":"leadB"},"mark":{"type":"rule","color":"#222","strokeWidth":1},"encoding":{"x":{"field":"x1","type":"quantitative"},"x2":{"field":"mz"},"y":{"field":"yl","type":"quantitative"}}},
{"data":{"name":"leadB"},"mark":{"type":"rule","color":"#222","strokeWidth":1},"encoding":{"x":{"field":"mz","type":"quantitative"},"y":{"field":"ytop","type":"quantitative"},"y2":{"field":"yl"}}},
{"data":{"name":"annB"},"mark":{"type":"text","fontSize":14,"align":"center","baseline":"middle"},"encoding":{"x":{"field":"lx","type":"quantitative"},"y":{"field":"lab","type":"quantitative"},"text":{"field":"val"},"color":{"field":"t","type":"nominal","scale":{"domain":["b","y"],"range":["#E8303A","#383D94"]},"legend":null}}},
{"data":{"name":"annB"},"mark":{"type":"text","fontSize":14,"align":"center","baseline":"middle","dy":17},"encoding":{"x":{"field":"lx","type":"quantitative"},"y":{"field":"lab","type":"quantitative"},"text":{"field":"ion"},"color":{"field":"t","type":"nominal","scale":{"domain":["b","y"],"range":["#E8303A","#383D94"]},"legend":null}}},
{"data":{"name":"lineB"},"mark":{"type":"text","fontSize":13.5,"align":"left","baseline":"middle","dx":-37},"encoding":{"x":{"field":"m1","type":"quantitative"},"y":{"field":"lev","type":"quantitative"},"text":{"field":"t"},"color":{"field":"t","type":"nominal","scale":{"domain":["b","y"],"range":["#E8303A","#383D94"]},"legend":null}}}
]}
]
}
